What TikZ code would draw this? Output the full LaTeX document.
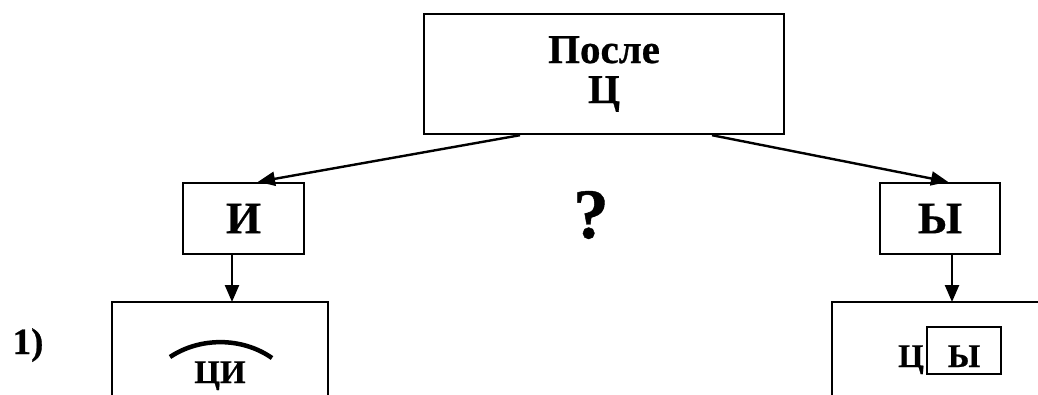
\documentclass[tikz,border=0pt]{standalone}
\usepackage{fontspec}
\setmainfont{Liberation Serif}[BoldFeatures={FakeBold=0.6}]
\usetikzlibrary{arrows.meta}
\tikzset{
  box/.style={draw, line width=2.4pt, inner sep=0pt, font=\bfseries},
  arr/.style={line width=2.4pt, -{Triangle[length=17pt,width=14pt]}},
  edge/.style={line width=2.4pt},
  txt/.style={inner sep=0pt, font=\bfseries}
}
\begin{document}
\begin{tikzpicture}[x=1pt,y=-1pt]
\useasboundingbox (0,0) rectangle (1038,394);
% title
\node[box, minimum width=360pt, minimum height=120pt, align=center,
      font=\bfseries\fontsize{41}{40}\selectfont] (title) at (604,74) {После\\Ц};
% second level
\node[box, minimum width=121pt, minimum height=71pt,
      font=\bfseries\fontsize{45}{45}\selectfont] (I) at (243.5,218.5) {И};
\node[box, minimum width=120pt, minimum height=71pt,
      font=\bfseries\fontsize{45}{45}\selectfont] (Y) at (940,218.5) {Ы};
\node[txt, anchor=base, font=\bfseries\fontsize{71}{71}\selectfont] (q) at (591,238) {?};
% connectors from title
\draw[arr] ([xshift=-84pt]title.south) -- ([xshift=14.5pt]I.north);
\draw[arr] ([xshift=108pt]title.south) -- ([xshift=8pt]Y.north);
% bottom boxes (open at the bottom edge)
\coordinate (ltop) at (232,302);
\coordinate (rtop) at (952,302);
\draw[edge] (112,396) -- (112,302) -- (328,302) -- (328,396);
\draw[edge] (832,396) -- (832,302) -- (1040,302);
\draw[arr] (I.south -| ltop) -- (ltop);
\draw[arr] (Y.south -| rtop) -- (rtop);
% labels
\node[txt, anchor=base, font=\bfseries\fontsize{37}{37}\selectfont] (one) at (28,354) {1)};
\node[txt, anchor=base, font=\bfseries\fontsize{33}{33}\selectfont] (ci) at (220,383) {ЦИ};
\draw[line width=4.5pt] (170,357) .. controls (200,337) and (242,337) .. (272,358);
\node[txt, anchor=base, font=\bfseries\fontsize{33}{33}\selectfont] (c) at (911,367) {Ц};
\node[box, minimum width=74pt, minimum height=47pt] (yb) at (964,350.5) {};
\node[txt, anchor=base, font=\bfseries\fontsize{33}{33}\selectfont] (y2) at (yb.center |- c.base) {Ы};
\end{tikzpicture}
\end{document}
